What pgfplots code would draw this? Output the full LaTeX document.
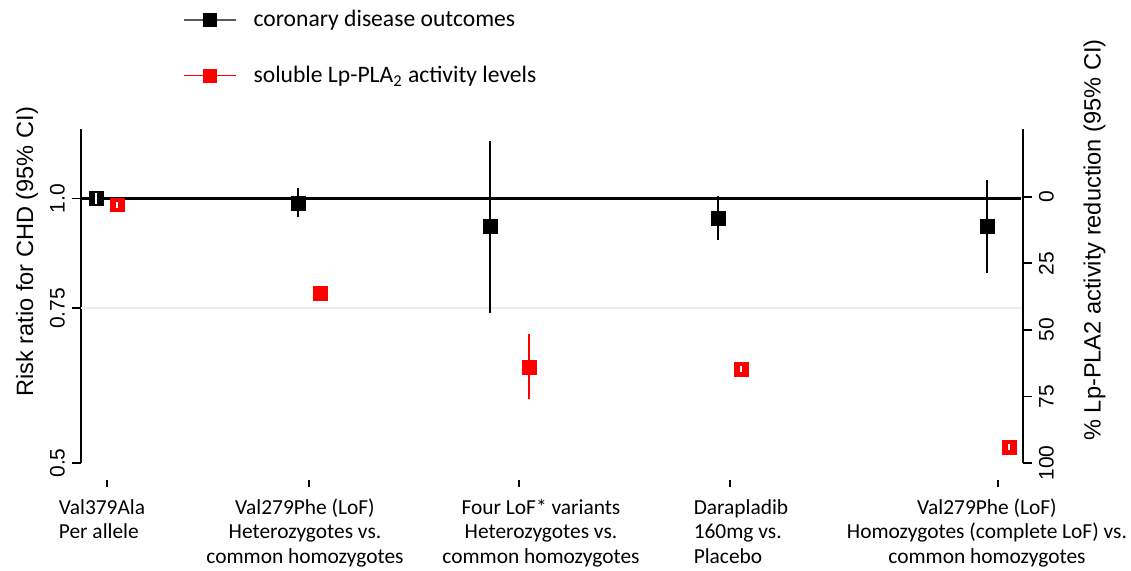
\documentclass[border=0pt]{standalone}
\usepackage{fontspec}
\setmainfont{Carlito}
\newfontfamily\arial{Liberation Sans}
\usepackage{pgfplots}
\pgfplotsset{compat=1.18}
\definecolor{myred}{RGB}{255,0,0}
\definecolor{lightgrid}{RGB}{230,239,240}
\definecolor{leggray}{RGB}{90,90,90}
\begin{document}
\begin{tikzpicture}
\path[use as bounding box] (-40.5pt,-54pt) rectangle (525pt,231.5pt);
% ---------------- left axis (log risk ratio) ----------------
\begin{axis}[
  scale only axis, width=471pt, height=167pt,
  xmin=81, xmax=1023,
  ymode=log, ymin=0.5, ymax=1.2,
  axis x line=none,
  axis y line*=left,
  axis line style={line width=0.9pt},
  ytick={0.5,0.75,1}, yticklabels={0.5,0.75,1.0},
  minor y tick style={draw=none},
  tick align=outside, major tick length=4.5pt,
  tick style={line width=0.9pt, black},
  yticklabel style={rotate=90, anchor=south, font=\arial\fontsize{10.5}{12}\selectfont},
  ylabel={Risk ratio for CHD (95\% CI)},
  ylabel style={at={(axis description cs:-0.0573,0.632)}, anchor=center, font=\arial\fontsize{11.8}{14}\selectfont},
  clip=false,
  legend image code/.code={
    \draw[#1, mark repeat=2, mark phase=2] plot coordinates {(0pt,0pt) (13pt,0pt) (26pt,0pt)};
  },
  legend style={draw=none, fill=none, inner sep=0pt,
    at={(axis description cs:0.108,1.2425)}, anchor=west,
    row sep=14.2pt, column sep=6.5pt,
    font=\fontsize{11.8}{13}\selectfont},
  legend cell align=left,
]
\addlegendimage{draw=leggray, line width=0.75pt, mark=square*, mark size=3.25pt, mark options={fill=black, draw=black, line width=0.3pt}}
\addlegendentry{coronary disease outcomes}
\addlegendimage{draw=myred, line width=0.5pt, mark=square*, mark size=3.25pt, mark options={fill=myred, draw=myred, line width=0.3pt}}
\addlegendentry{soluble Lp-PLA\textsubscript{2} activity levels}
% reference lines
\addplot[forget plot, lightgrid, line width=1.1pt] coordinates {(81,0.75) (1023,0.75)};
\addplot[forget plot, black, line width=1.4pt] coordinates {(81,1.0) (1021,1.0)};
% CIs
\addplot[forget plot, black, line width=1.15pt] coordinates {(298,0.952) (298,1.027)};
\addplot[forget plot, black, line width=1.15pt] coordinates {(490,0.740) (490,1.164)};
\addplot[forget plot, black, line width=1.15pt] coordinates {(718,0.898) (718,1.008)};
\addplot[forget plot, black, line width=1.15pt] coordinates {(987,0.823) (987,1.050)};
% estimates
\addplot[forget plot, only marks, mark=square*, mark size=3.5pt, mark options={fill=black, draw=black, line width=0.2pt}]
  coordinates {(96,1.0) (298,0.989) (490,0.929) (718,0.951) (987,0.929)};
\addplot[forget plot, only marks, mark=|, mark size=2.7pt, mark options={white, line width=1.4pt}]
  coordinates {(96,1.0)};
\end{axis}
% ---------------- right axis (% reduction) ----------------
\begin{axis}[
  scale only axis, width=471pt, height=167pt,
  xmin=81, xmax=1023,
  ymin=-25.5, ymax=100, y dir=reverse,
  axis x line=none,
  axis y line*=right,
  axis line style={line width=0.9pt},
  ytick={0,25,50,75,100}, yticklabels={0,25,50,75,100},
  tick align=outside, major tick length=4.5pt,
  tick style={line width=0.9pt, black},
  yticklabel style={rotate=90, anchor=north, font=\arial\fontsize{10.5}{12}\selectfont},
  ylabel={\% Lp-PLA2 activity reduction (95\% CI)},
  ylabel style={at={(axis description cs:1.0760,0.668)}, anchor=center, font=\arial\fontsize{11.8}{14}\selectfont},
  clip=false,
]
\addplot[myred, line width=1.15pt] coordinates {(529,51.7) (529,76.0)};
\addplot[only marks, mark=square*, mark size=3.4pt, mark options={fill=myred, draw=myred, line width=0.2pt}]
  coordinates {(117,3.0) (320,36.2) (529,64.1) (741,64.7) (1009,94.1)};
\addplot[only marks, mark=|, mark size=1.4pt, mark options={white, line width=1.2pt}]
  coordinates {(117,3.0) (741,64.7) (1009,94.1)};
\end{axis}
% ---------------- x ticks and category labels ----------------
\begin{axis}[
  at={(0pt,-12pt)},
  scale only axis, width=471pt, height=10pt,
  xmin=81, xmax=1023, ymin=0, ymax=1,
  axis y line=none, axis x line*=bottom,
  x axis line style={draw=none},
  xtick={107,309,519,730,998}, xticklabels={},
  tick align=inside, major tick length=3.5pt,
  tick style={line width=0.6pt, black},
  extra x ticks={102,305,541,741,987},
  extra x tick labels={
    {\begin{tabular}{@{}l@{}}Val379Ala\\Per allele\end{tabular}},
    {\begin{tabular}{@{}c@{}}Val279Phe (LoF)\\Heterozygotes vs.\\common homozygotes\end{tabular}},
    {\begin{tabular}{@{}c@{}}Four LoF* variants\\Heterozygotes vs.\\common homozygotes\end{tabular}},
    {\begin{tabular}{@{}l@{}}Darapladib\\160mg vs.\\Placebo\end{tabular}},
    {\begin{tabular}{@{}c@{}}Val279Phe (LoF)\\Homozygotes (complete LoF) vs.\\common homozygotes\end{tabular}}},
  extra x tick style={major tick length=0pt, tick style={draw=none}},
  xticklabel style={anchor=north, yshift=-1.5pt, font=\fontsize{10.7}{12.25}\selectfont},
]
\addplot[draw=none] coordinates {(500,0.5)};
\end{axis}
\end{tikzpicture}
\end{document}
